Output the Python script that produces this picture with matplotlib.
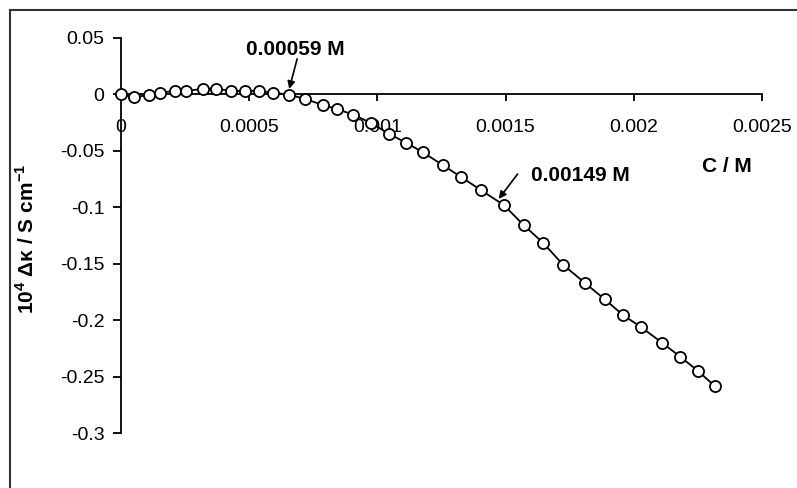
import matplotlib.pyplot as plt
from matplotlib.lines import Line2D

plt.rcParams['font.family'] = ['Liberation Sans', 'DejaVu Sans']
plt.rcParams['mathtext.fontset'] = 'custom'
plt.rcParams['mathtext.rm'] = 'Liberation Sans:bold'
plt.rcParams['mathtext.bf'] = 'Liberation Sans:bold'

# concentration (M) and 10^4 * delta kappa (S cm^-1)
conc = [0.0, 5.2e-5, 1.08e-4, 1.54e-4, 2.10e-4, 2.55e-4, 3.18e-4, 3.72e-4,
        4.28e-4, 4.82e-4, 5.38e-4, 5.91e-4, 6.55e-4, 7.18e-4, 7.86e-4, 8.41e-4,
        9.06e-4, 9.75e-4, 1.046e-3, 1.113e-3, 1.176e-3, 1.254e-3, 1.326e-3,
        1.403e-3, 1.493e-3, 1.570e-3, 1.647e-3, 1.724e-3, 1.808e-3, 1.887e-3,
        1.958e-3, 2.028e-3, 2.110e-3, 2.181e-3, 2.250e-3, 2.317e-3]
dkappa = [0.0, -0.0025, -0.0004, 0.0016, 0.0031, 0.0031, 0.0049, 0.0051,
          0.0031, 0.0031, 0.0031, 0.0016, -0.0002, -0.0040, -0.0093, -0.0129,
          -0.0179, -0.0253, -0.0350, -0.0430, -0.0510, -0.0625, -0.0731,
          -0.0847, -0.0980, -0.1157, -0.1317, -0.1509, -0.1668, -0.1816,
          -0.1955, -0.2061, -0.2200, -0.2324, -0.2449, -0.2587]

xticks = [0, 0.0005, 0.001, 0.0015, 0.002, 0.0025]
xticklabels = ['0', '0.0005', '0.001', '0.0015', '0.002', '0.0025']
yticks = [0.05, 0, -0.05, -0.1, -0.15, -0.2, -0.25, -0.3]
yticklabels = ['0.05', '0', '-0.05', '-0.1', '-0.15', '-0.2', '-0.25', '-0.3']

fig = plt.figure(figsize=(7.97, 4.88), dpi=100)
ax = fig.add_axes([121 / 797, 1 - 433 / 488, 641 / 797, 395 / 488])

ax.plot(conc, dkappa, color='black', lw=1.3, marker='o', ms=8,
        mfc='white', mec='black', mew=1.3, zorder=3, clip_on=False)

ax.set_xlim(0, 0.0025)
ax.set_ylim(-0.3, 0.05)
ax.spines['top'].set_visible(False)
ax.spines['right'].set_visible(False)
ax.spines['bottom'].set_position(('data', 0))
ax.spines['left'].set_linewidth(1.3)
ax.spines['bottom'].set_linewidth(1.3)

ax.set_xticks(xticks)
ax.set_xticklabels(xticklabels)
ax.set_yticks(yticks)
ax.set_yticklabels(yticklabels)
ax.tick_params(axis='x', direction='out', length=5, width=1.3, pad=13, labelsize=14)
ax.tick_params(axis='y', direction='out', length=6, width=1.3, pad=6, labelsize=14)

ax.text(0.002363, -0.0643, 'C / M', fontsize=15, fontweight='bold',
        ha='center', va='center')
fig.text(27 / 797, 1 - 239 / 488, r'10$^{4}$ Δκ / S cm$^{-1}$', rotation=90,
         fontsize=15, fontweight='bold', ha='center', va='center')

arrow = dict(arrowstyle='-|>', color='black', lw=1.2, mutation_scale=11,
             shrinkA=0, shrinkB=0)
ax.text(6.80e-4, 0.0394, '0.00059 M', fontsize=15, fontweight='bold',
        ha='center', va='center')
ax.annotate('', xy=(6.56e-4, 0.0049), xytext=(6.87e-4, 0.0315), arrowprops=arrow)
ax.text(1.793e-3, -0.0722, '0.00149 M', fontsize=15, fontweight='bold',
        ha='center', va='center')
ax.annotate('', xy=(1.473e-3, -0.0926), xytext=(1.547e-3, -0.0705), arrowprops=arrow)

# outer frame (only left and top edges visible in the crop)
fig.add_artist(Line2D([10 / 797, 10 / 797], [0, 1 - 10 / 488], color='#333333',
                      lw=1.5, transform=fig.transFigure))
fig.add_artist(Line2D([10 / 797, 1], [1 - 10 / 488, 1 - 10 / 488], color='#333333',
                      lw=1.5, transform=fig.transFigure))

fig.savefig('out.png', dpi=100)
